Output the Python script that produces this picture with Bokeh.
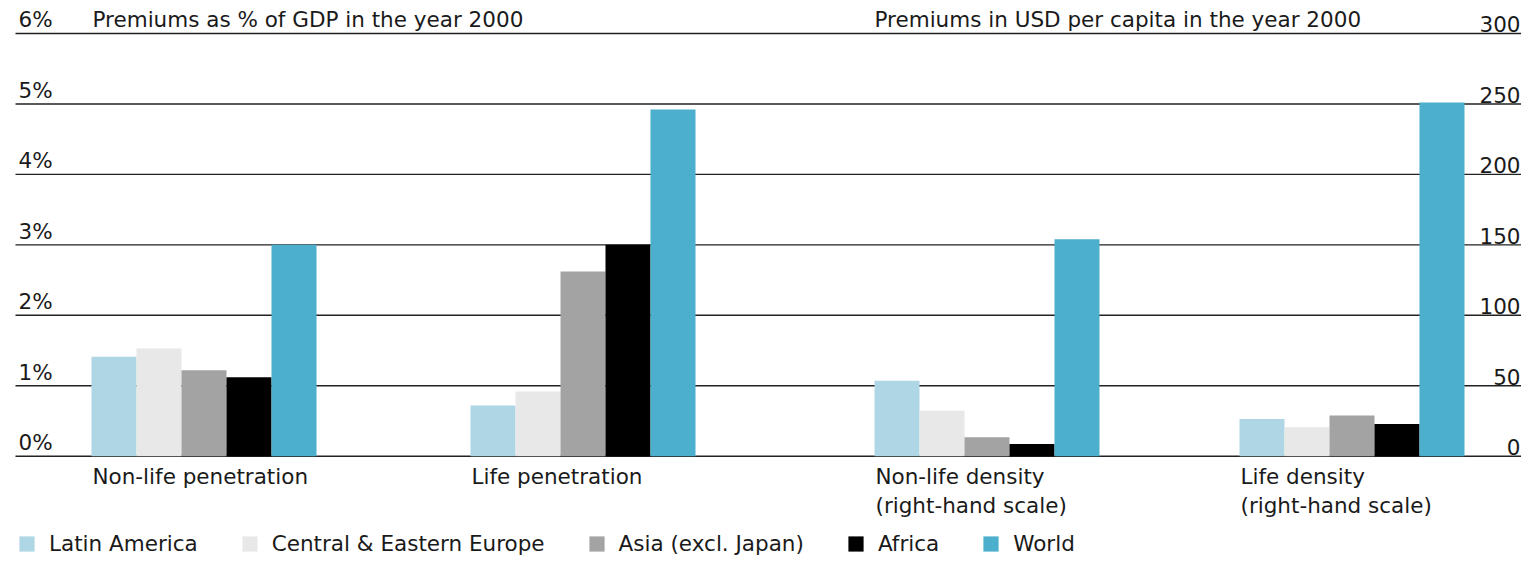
from bokeh.plotting import figure
from bokeh.models import Range1d, Legend, LegendItem, ColumnDataSource
from bokeh.core.properties import value
from bokeh.embed import file_html
from bokeh.resources import INLINE

# ---------------- data ----------------
category_lines = [["Non-life penetration"], ["Life penetration"],
                  ["Non-life density", "(right-hand scale)"],
                  ["Life density", "(right-hand scale)"]]
category_scale = ["left", "left", "right", "right"]

series_names = ["Latin America", "Central & Eastern Europe", "Asia (excl. Japan)", "Africa", "World"]
latin_america = [1.41, 0.72, 53.5, 26.4]
central_eastern_europe = [1.53, 0.92, 32.3, 20.5]
asia_excl_japan = [1.22, 2.62, 13.4, 28.8]
africa = [1.12, 3.00, 8.7, 22.9]
world = [3.00, 4.92, 154.0, 251.0]
series_values = [latin_america, central_eastern_europe, asia_excl_japan, africa, world]

left_ticks = [0, 1, 2, 3, 4, 5, 6]
left_tick_labels = ["0%", "1%", "2%", "3%", "4%", "5%", "6%"]
right_ticks = [0, 50, 100, 150, 200, 250, 300]
right_tick_labels = ["0", "50", "100", "150", "200", "250", "300"]

left_title = "Premiums as % of GDP in the year 2000"
right_title = "Premiums in USD per capita in the year 2000"

# ---------------- layout / style ----------------
W, H = 1521, 560
group_start = [91, 470, 874, 1239]
bar_w = 45
colors = ["#afd6e4", "#e8e8e8", "#a3a3a3", "#000000", "#4bafcd"]
FONT = value("DejaVu Sans")
FS = "21.5px"
TXT = "#1a1a1a"

p = figure(width=W, height=H, x_range=Range1d(0, W), y_range=Range1d(-1.4805, 6.468),
           x_axis_location=None, y_axis_location=None, toolbar_location=None,
           output_backend="svg", min_border=0, outline_line_color=None)
p.extra_y_ranges = {"right": Range1d(-74.03, 323.4)}
p.xgrid.visible = False
p.ygrid.visible = False

# gridlines
p.segment(x0=[15] * len(left_ticks), x1=[W] * len(left_ticks), y0=left_ticks, y1=left_ticks,
          line_color="#222222", line_width=1.4)

# bars
legend_items = []
for i, (name, vals) in enumerate(zip(series_names, series_values)):
    first = None
    for scale in ["left", "right"]:
        xs, tops = [], []
        for g, v in enumerate(vals):
            if category_scale[g] == scale:
                xs.append(group_start[g] + (i + 0.5) * bar_w)
                tops.append(v)
        src = ColumnDataSource(dict(x=xs, top=tops))
        kw = {} if scale == "left" else {"y_range_name": "right"}
        r = p.vbar(x="x", top="top", bottom=0, width=bar_w, source=src,
                   fill_color=colors[i], line_color=None, **kw)
        if first is None:
            first = r
    legend_items.append(LegendItem(label=name, renderers=[first]))

# tick labels
p.text(x=[18] * len(left_ticks), y=left_ticks, text=left_tick_labels, text_font=FONT,
       text_font_size=FS, text_color=TXT, text_baseline="bottom", y_offset=-1)
p.text(x=[1520] * len(right_ticks), y=right_ticks, text=right_tick_labels, text_font=FONT,
       text_font_size=FS, text_color=TXT, text_align="right", text_baseline="bottom",
       y_offset=-1, y_range_name="right")

# titles
p.text(x=[92, 874], y=[6, 6], text=[left_title, right_title], text_font=FONT,
       text_font_size=FS, text_color=TXT, text_baseline="bottom", y_offset=-1)

# category labels
for g, lines in enumerate(category_lines):
    for k, line in enumerate(lines):
        p.text(x=[group_start[g] + 1], y=[0], text=[line], text_font=FONT, text_font_size=FS,
               text_color=TXT, text_baseline="top", y_offset=8 + 29 * k)

legend = Legend(items=legend_items, orientation="horizontal", location=(17, 4),
                glyph_width=19, glyph_height=19, label_standoff=13, spacing=42,
                padding=0, margin=0, border_line_color=None, background_fill_alpha=0,
                label_text_font="DejaVu Sans", label_text_font_size=FS,
                label_text_color=TXT)
p.add_layout(legend)

open("out.html", "w").write(file_html(p, INLINE))
